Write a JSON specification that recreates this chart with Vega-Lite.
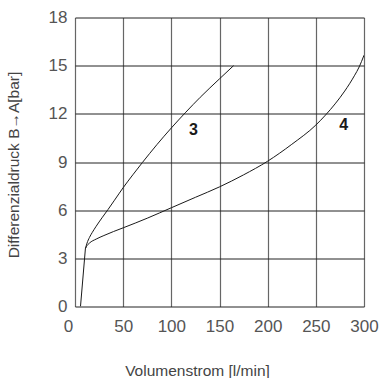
{
  "$schema": "https://vega.github.io/schema/vega-lite/v6.json",
  "width": 289,
  "height": 289,
  "autosize": "none",
  "padding": {"left": 75, "top": 17.5, "right": 15, "bottom": 71.5},
  "background": "white",
  "config": {
    "view": {"stroke": null},
    "font": "Liberation Sans"
  },
  "datasets": {
    "curves": [
      {"series": "rise", "q": 5.7, "p": 0},
      {"series": "rise", "q": 10.8, "p": 3.6},
      {"series": "3", "q": 10.8, "p": 3.6},
      {"series": "3", "q": 12.5, "p": 3.95},
      {"series": "3", "q": 15, "p": 4.3},
      {"series": "3", "q": 18, "p": 4.62},
      {"series": "3", "q": 22, "p": 5.0},
      {"series": "3", "q": 28, "p": 5.52},
      {"series": "3", "q": 34.4, "p": 6.05},
      {"series": "3", "q": 41, "p": 6.62},
      {"series": "3", "q": 50, "p": 7.4},
      {"series": "3", "q": 60, "p": 8.2},
      {"series": "3", "q": 70, "p": 8.97},
      {"series": "3", "q": 85, "p": 10.08},
      {"series": "3", "q": 100, "p": 11.12},
      {"series": "3", "q": 115, "p": 12.1},
      {"series": "3", "q": 130, "p": 13.03},
      {"series": "3", "q": 150, "p": 14.18},
      {"series": "3", "q": 164.6, "p": 15.0},
      {"series": "4", "q": 10.8, "p": 3.6},
      {"series": "4", "q": 12, "p": 3.75},
      {"series": "4", "q": 15, "p": 3.95},
      {"series": "4", "q": 22, "p": 4.2},
      {"series": "4", "q": 30, "p": 4.42},
      {"series": "4", "q": 40, "p": 4.67},
      {"series": "4", "q": 50, "p": 4.9},
      {"series": "4", "q": 75, "p": 5.5},
      {"series": "4", "q": 100, "p": 6.15},
      {"series": "4", "q": 125, "p": 6.8},
      {"series": "4", "q": 150, "p": 7.45},
      {"series": "4", "q": 175, "p": 8.2},
      {"series": "4", "q": 200, "p": 9.05},
      {"series": "4", "q": 225, "p": 10.1},
      {"series": "4", "q": 250, "p": 11.3},
      {"series": "4", "q": 260, "p": 11.92},
      {"series": "4", "q": 270, "p": 12.62},
      {"series": "4", "q": 280, "p": 13.42},
      {"series": "4", "q": 290, "p": 14.37},
      {"series": "4", "q": 295, "p": 14.92},
      {"series": "4", "q": 300, "p": 15.65}
    ],
    "labels": [
      {"label": "3", "q": 123, "p": 11.0},
      {"label": "4", "q": 279, "p": 11.3}
    ]
  },
  "layer": [
    {
      "data": {"name": "curves"},
      "mark": {"type": "line", "interpolate": "monotone", "color": "#1a1a1a", "strokeWidth": 1, "clip": true},
      "encoding": {
        "x": {
          "field": "q",
          "type": "quantitative",
          "scale": {"domain": [0, 300], "nice": false, "zero": false},
          "axis": {
            "values": [0, 50, 100, 150, 200, 250, 300],
            "title": "Volumenstrom [l/min]",
            "titleFont": "Liberation Sans",
            "titleFontSize": 15.5,
            "titleFontWeight": "normal",
            "titleColor": "#444",
            "titleX": 122,
            "titleY": 64,
            "titleAlign": "center",
            "titleBaseline": "middle",
            "domain": false,
            "ticks": false,
            "labelFontSize": 17,
            "labelColor": "#555",
            "labelPadding": 12,
            "labelFlush": false,
            "labelOverlap": false,
            "labelOffset": {"condition": {"test": "datum.value === 0", "value": -7}, "value": 0},
            "grid": true,
            "gridColor": "#666",
            "gridWidth": 1.2,
            "gridOpacity": 1
          }
        },
        "y": {
          "field": "p",
          "type": "quantitative",
          "scale": {"domain": [0, 18], "nice": false, "zero": false},
          "axis": {
            "values": [0, 3, 6, 9, 12, 15, 18],
            "title": "Differenzialdruck B→A[bar]",
            "titleFont": "Liberation Sans",
            "titleFontSize": 15.5,
            "titleFontWeight": "normal",
            "titleColor": "#444",
            "titleAngle": 270,
            "titleX": -62,
            "titleY": 147,
            "titleAlign": "center",
            "titleBaseline": "middle",
            "domain": false,
            "ticks": false,
            "labelFontSize": 17,
            "labelColor": "#555",
            "labelPadding": 8,
            "labelFlush": false,
            "labelOverlap": false,
            "grid": true,
            "gridColor": "#222",
            "gridWidth": 1,
            "gridOpacity": 1
          }
        },
        "detail": {"field": "series", "type": "nominal"}
      }
    },
    {
      "data": {"name": "labels"},
      "mark": {"type": "text", "fontSize": 16, "fontWeight": "bold", "color": "#1a1a1a", "align": "center", "baseline": "middle", "font": "Liberation Sans"},
      "encoding": {
        "x": {"field": "q", "type": "quantitative"},
        "y": {"field": "p", "type": "quantitative"},
        "text": {"field": "label", "type": "nominal"}
      }
    }
  ]
}
